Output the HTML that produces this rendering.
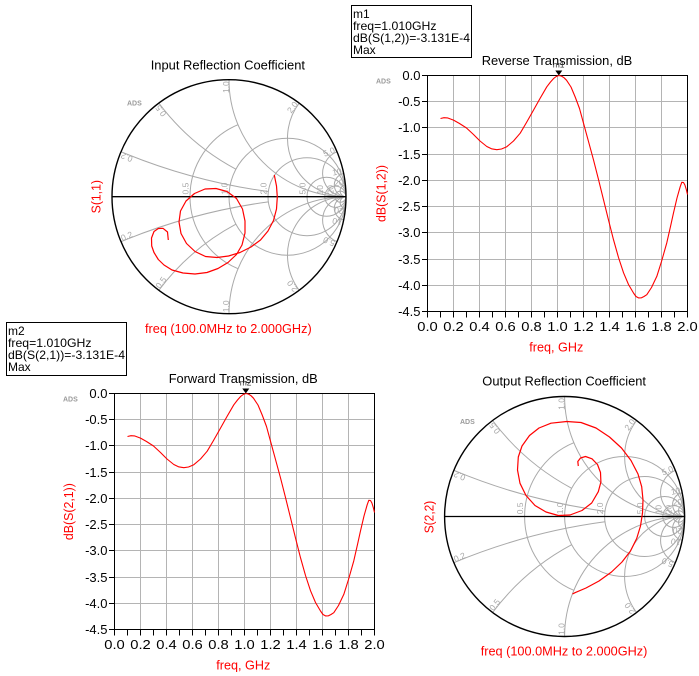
<!DOCTYPE html>
<html>
<head>
<meta charset="utf-8">
<style>
  html,body{margin:0;padding:0;background:#fff;}
  svg{display:block;}
  .sm *{vector-effect:non-scaling-stroke;}
  text{font-family:"Liberation Sans",Arial,sans-serif;}
  .gl{font-size:8.5px;fill:#a8a8a8;}
  .tk{font-size:13px;fill:#000;}
  .ads{font-size:7px;font-weight:bold;fill:#9a9a9a;}
  .red{fill:#ff0000;font-size:13px;}
  .mk{font-size:12px;fill:#000;}
</style>
</head>
<body>
<svg width="699" height="676" viewBox="0 0 699 676" xmlns="http://www.w3.org/2000/svg">
<rect width="699" height="676" fill="#fff"/>

<!-- ============ Smith chart A (S11) ============ -->
<g class="sm" transform="translate(229 196.7) scale(117)" fill="none" stroke="#a9a9a9" stroke-width="1">
  <circle cx="0.5" cy="0" r="0.5"/>
  <circle cx="0.6667" cy="0" r="0.3333"/>
  <circle cx="0.8333" cy="0" r="0.1667"/>
  <circle cx="0.9091" cy="0" r="0.0909"/>
  <circle cx="0.9524" cy="0" r="0.0476"/>
  <path d="M0.0769 -0.6154 A0.6667 0.6667 0 0 0 0.0769 0.6154"/>
  <path d="M-0.9231 -0.3846 A5 5 0 0 0 0.3363 -0.0442 M-0.9231 0.3846 A5 5 0 0 1 0.3363 0.0442"/>
  <path d="M-0.6 -0.8 A2 2 0 0 0 0.0588 -0.2353 M-0.6 0.8 A2 2 0 0 1 0.0588 0.2353"/>
  <path d="M0 -1 A1 1 0 0 0 1 0 M0 1 A1 1 0 0 1 1 0"/>
  <path d="M0.6 -0.8 A0.5 0.5 0 0 0 1 0 M0.6 0.8 A0.5 0.5 0 0 1 1 0"/>
  <path d="M0.9231 -0.3846 A0.2 0.2 0 0 0 1 0 M0.9231 0.3846 A0.2 0.2 0 0 1 1 0"/>
  <path d="M0.9802 -0.198 A0.1 0.1 0 0 0 1 0 M0.9802 0.198 A0.1 0.1 0 0 1 1 0"/>
  <path d="M0.995 -0.0998 A0.05 0.05 0 0 0 1 0 M0.995 0.0998 A0.05 0.05 0 0 1 1 0"/>
  <circle cx="0" cy="0" r="1" stroke="#000" stroke-width="1.4"/>
  <line x1="-1" y1="0" x2="1" y2="0" stroke="#000" stroke-width="1.3"/>
</g>
<!-- Smith A labels -->
<g class="gl">
  <text text-anchor="end" transform="translate(122.4 152.3) rotate(-157.4)">0.2</text>
  <text text-anchor="end" transform="translate(159.7 104.3) rotate(-126.9)">0.5</text>
  <text text-anchor="end" transform="translate(229 81.2) rotate(-90)">1.0</text>
  <text text-anchor="end" transform="translate(298.3 104.3) rotate(-53.1)">2.0</text>
  <text text-anchor="end" transform="translate(335.6 152.3) rotate(-22.6)">5.0</text>
  <text text-anchor="end" transform="translate(342.2 173.8) rotate(-11.4)">10</text>
  <text text-anchor="end" transform="translate(343.9 185.2) rotate(-5.7)">20</text>
  <text transform="translate(122.4 241.1) rotate(-22.6)">0.2</text>
  <text transform="translate(159.7 289.1) rotate(-53.1)">0.5</text>
  <text transform="translate(229 312.2) rotate(-90)">1.0</text>
  <text transform="translate(298.3 289.1) rotate(-126.9)">2.0</text>
  <text transform="translate(335.6 241.1) rotate(-157.4)">5.0</text>
  <text transform="translate(342.2 219.6) rotate(-168.6)">10</text>
  <text transform="translate(343.9 208.2) rotate(-174.3)">20</text>
  <text transform="translate(188.5 194.5) rotate(-90)">0.5</text>
  <text transform="translate(227.5 194.5) rotate(-90)">1.0</text>
  <text transform="translate(266.5 194.5) rotate(-90)">2.0</text>
  <text transform="translate(305.5 194.5) rotate(-90)">5.0</text>
  <text transform="translate(323 194.5) rotate(-90)">10</text>
  <text transform="translate(333.5 194.5) rotate(-90)">20</text>
</g>
<polyline fill="none" stroke="#ff0000" stroke-width="1.2" stroke-linejoin="round" points="168.3,240 167.5,232 163,228.3 158.3,228.5 154,231.5 151.5,238 151.7,246 154,252.5 158.3,259.5 164,265 172,270 183,273 195,274 207,272.5 218,268.5 228,262.5 236.5,254.5 242,245 245,233 245,221 242.5,209 236.5,198.5 227,191.5 216,188.5 205,189 194.5,193.5 186,201 180.5,211 179,222 181,233.5 186.5,243.5 195,251.5 205.5,256.5 217,257.5 228.5,256 240,252.5 251,247 260.5,240 268,231 273.5,220.5 276.5,209 277.3,197 276.5,186 274.3,175"/>
<text class="ads" x="127" y="105.5">ADS</text>
<text x="150.7" y="69.3" font-size="13" fill="#000" textLength="154.3" lengthAdjust="spacingAndGlyphs">Input Reflection Coefficient</text>
<text class="red" text-anchor="middle" transform="translate(100.3 196.7) rotate(-90)" textLength="33.3" lengthAdjust="spacingAndGlyphs">S(1,1)</text>
<text class="red" x="145" y="333" textLength="166.7" lengthAdjust="spacingAndGlyphs">freq (100.0MHz to 2.000GHz)</text>

<!-- ============ Smith chart B (S22) ============ -->
<g class="sm" transform="translate(564.6 516.5) scale(120)" fill="none" stroke="#a9a9a9" stroke-width="1">
  <circle cx="0.5" cy="0" r="0.5"/>
  <circle cx="0.6667" cy="0" r="0.3333"/>
  <circle cx="0.8333" cy="0" r="0.1667"/>
  <circle cx="0.9091" cy="0" r="0.0909"/>
  <circle cx="0.9524" cy="0" r="0.0476"/>
  <path d="M0.0769 -0.6154 A0.6667 0.6667 0 0 0 0.0769 0.6154"/>
  <path d="M-0.9231 -0.3846 A5 5 0 0 0 0.3363 -0.0442 M-0.9231 0.3846 A5 5 0 0 1 0.3363 0.0442"/>
  <path d="M-0.6 -0.8 A2 2 0 0 0 0.0588 -0.2353 M-0.6 0.8 A2 2 0 0 1 0.0588 0.2353"/>
  <path d="M0 -1 A1 1 0 0 0 1 0 M0 1 A1 1 0 0 1 1 0"/>
  <path d="M0.6 -0.8 A0.5 0.5 0 0 0 1 0 M0.6 0.8 A0.5 0.5 0 0 1 1 0"/>
  <path d="M0.9231 -0.3846 A0.2 0.2 0 0 0 1 0 M0.9231 0.3846 A0.2 0.2 0 0 1 1 0"/>
  <path d="M0.9802 -0.198 A0.1 0.1 0 0 0 1 0 M0.9802 0.198 A0.1 0.1 0 0 1 1 0"/>
  <path d="M0.995 -0.0998 A0.05 0.05 0 0 0 1 0 M0.995 0.0998 A0.05 0.05 0 0 1 1 0"/>
  <circle cx="0" cy="0" r="1" stroke="#000" stroke-width="1.4"/>
  <line x1="-1" y1="0" x2="1" y2="0" stroke="#000" stroke-width="1.3"/>
</g>
<g class="gl">
  <text text-anchor="end" transform="translate(455.2 470.9) rotate(-157.4)">0.2</text>
  <text text-anchor="end" transform="translate(493.5 421.7) rotate(-126.9)">0.5</text>
  <text text-anchor="end" transform="translate(564.6 398) rotate(-90)">1.0</text>
  <text text-anchor="end" transform="translate(635.7 421.7) rotate(-53.1)">2.0</text>
  <text text-anchor="end" transform="translate(674 470.9) rotate(-22.6)">5.0</text>
  <text text-anchor="end" transform="translate(680.8 493) rotate(-11.4)">10</text>
  <text text-anchor="end" transform="translate(682.5 504.7) rotate(-5.7)">20</text>
  <text transform="translate(455.2 562.1) rotate(-22.6)">0.2</text>
  <text transform="translate(493.5 611.3) rotate(-53.1)">0.5</text>
  <text transform="translate(564.6 635) rotate(-90)">1.0</text>
  <text transform="translate(635.7 611.3) rotate(-126.9)">2.0</text>
  <text transform="translate(674 562.1) rotate(-157.4)">5.0</text>
  <text transform="translate(680.8 540) rotate(-168.6)">10</text>
  <text transform="translate(682.5 528.3) rotate(-174.3)">20</text>
  <text transform="translate(523.1 514.3) rotate(-90)">0.5</text>
  <text transform="translate(563.1 514.3) rotate(-90)">1.0</text>
  <text transform="translate(603.1 514.3) rotate(-90)">2.0</text>
  <text transform="translate(643.1 514.3) rotate(-90)">5.0</text>
  <text transform="translate(661.3 514.3) rotate(-90)">10</text>
  <text transform="translate(671.4 514.3) rotate(-90)">20</text>
</g>
<polyline fill="none" stroke="#ff0000" stroke-width="1.2" stroke-linejoin="round" points="578.3,466 577.8,461.5 580.5,458 585.5,456.5 592,458.8 597.5,464.5 600.5,472.5 600.9,482 598.3,491.7 591.7,503 582,510.5 570,515 558.3,515.5 546,512 535,505.5 526,495.5 520,483.3 517.5,470 518.3,457 522,446 529.5,435.5 539,428 551,423.2 566.7,421.5 581,422.5 596,428 609.5,437 621.5,448 631,460.5 638,474 641.7,486.7 643,500 642.5,513 640.5,526 636.7,538.5 630.5,551 622,562 611.5,572 599,581 586,588 575,592.7 572.5,594"/>
<text class="ads" x="460" y="424">ADS</text>
<text x="482.3" y="385.5" font-size="13" fill="#000" textLength="163.7" lengthAdjust="spacingAndGlyphs">Output Reflection Coefficient</text>
<text class="red" text-anchor="middle" transform="translate(433.3 517) rotate(-90)" textLength="32.6" lengthAdjust="spacingAndGlyphs">S(2,2)</text>
<text class="red" x="480.7" y="655.7" textLength="166.7" lengthAdjust="spacingAndGlyphs">freq (100.0MHz to 2.000GHz)</text>

<!-- ============ Rectangular plot (Reverse) ============ -->
<g id="plot">
  <g stroke="#b4b4b4" stroke-width="1" shape-rendering="crispEdges" fill="none">
    <path d="M453.5 75.5V311.5M479.5 75.5V311.5M505.5 75.5V311.5M531.5 75.5V311.5M557.5 75.5V311.5M583.5 75.5V311.5M609.5 75.5V311.5M635.5 75.5V311.5M661.5 75.5V311.5"/>
    <path d="M427.5 101.5H687.5M427.5 127.5H687.5M427.5 154.5H687.5M427.5 180.5H687.5M427.5 206.5H687.5M427.5 232.5H687.5M427.5 259.5H687.5M427.5 285.5H687.5"/>
  </g>
  <rect x="427.5" y="75.5" width="260" height="236" fill="none" stroke="#000" stroke-width="1" shape-rendering="crispEdges"/>
  <path stroke="#000" stroke-width="1" shape-rendering="crispEdges" fill="none" d="M422 75.5H427.5M422 101.5H427.5M422 127.5H427.5M422 154.5H427.5M422 180.5H427.5M422 206.5H427.5M422 232.5H427.5M422 259.5H427.5M422 285.5H427.5M422 311.5H427.5
  M427.5 311.5V317.5M440.5 311.5V317.5M453.5 311.5V317.5M466.5 311.5V317.5M479.5 311.5V317.5M492.5 311.5V317.5M505.5 311.5V317.5M518.5 311.5V317.5M531.5 311.5V317.5M544.5 311.5V317.5M557.5 311.5V317.5M570.5 311.5V317.5M583.5 311.5V317.5M596.5 311.5V317.5M609.5 311.5V317.5M622.5 311.5V317.5M635.5 311.5V317.5M648.5 311.5V317.5M661.5 311.5V317.5M674.5 311.5V317.5M687.5 311.5V317.5"/>
  <polyline transform="translate(427.5 75.5)" fill="none" stroke="#ff0000" stroke-width="1.1" stroke-linejoin="round" points="13,43 16.5,42.2 20,42.4 26,44.6 32,48 39,52.5 46,59 52.5,65.5 59.3,71 64,73.3 69.3,74.2 74,73.5 79.3,71.2 86,65.5 92.7,57.7 99,47 106,34.6 112.5,23 119.3,11.3 123,6.5 126,3.1 128.7,1 131.3,0 134,0.6 136.5,2.2 139,4.7 143.5,11.5 147.7,21.5 152,33 156,47.7 161,66 166,84.4 171,104 176,124.3 181,144.5 186,164.2 191,182 196,197.2 201,209 206,217.5 208.5,221 211,222.4 214,222.3 216.5,221 219.3,219.2 224,212 229.3,200.9 234,186 239.3,167.3 243,151 246,137.4 249.5,122.5 252.7,111.2 254.3,106.8 256,107 257.4,109.5 258.8,114 260,119"/>
  <path d="M555.3 70.5H562.3L558.8 75.5Z" fill="#000"/>
  <g class="tk" text-anchor="middle">
    <text x="427.5" y="331" textLength="20.5" lengthAdjust="spacingAndGlyphs">0.0</text><text x="453.5" y="331" textLength="20.5" lengthAdjust="spacingAndGlyphs">0.2</text><text x="479.5" y="331" textLength="20.5" lengthAdjust="spacingAndGlyphs">0.4</text><text x="505.5" y="331" textLength="20.5" lengthAdjust="spacingAndGlyphs">0.6</text><text x="531.5" y="331" textLength="20.5" lengthAdjust="spacingAndGlyphs">0.8</text><text x="557.5" y="331" textLength="20.5" lengthAdjust="spacingAndGlyphs">1.0</text><text x="583.5" y="331" textLength="20.5" lengthAdjust="spacingAndGlyphs">1.2</text><text x="609.5" y="331" textLength="20.5" lengthAdjust="spacingAndGlyphs">1.4</text><text x="635.5" y="331" textLength="20.5" lengthAdjust="spacingAndGlyphs">1.6</text><text x="661.5" y="331" textLength="20.5" lengthAdjust="spacingAndGlyphs">1.8</text><text x="687.5" y="331" textLength="20.5" lengthAdjust="spacingAndGlyphs">2.0</text>
  </g>
  <g class="tk" text-anchor="end">
    <text x="420.5" y="80">0.0</text><text x="420.5" y="106">-0.5</text><text x="420.5" y="132">-1.0</text><text x="420.5" y="159">-1.5</text><text x="420.5" y="185">-2.0</text><text x="420.5" y="211">-2.5</text><text x="420.5" y="237">-3.0</text><text x="420.5" y="264">-3.5</text><text x="420.5" y="290">-4.0</text><text x="420.5" y="316">-4.5</text>
  </g>
  <text class="red" x="529.3" y="351.5" textLength="54" lengthAdjust="spacingAndGlyphs">freq, GHz</text>
  <text class="ads" x="376" y="83.5">ADS</text>
</g>
<use href="#plot" transform="translate(-313 318)"/>

<text x="481.7" y="65" font-size="13" fill="#000" textLength="150.6" lengthAdjust="spacingAndGlyphs">Reverse Transmission, dB</text>
<text class="red" text-anchor="middle" transform="translate(385.3 193.5) rotate(-90)" textLength="57" lengthAdjust="spacingAndGlyphs">dB(S(1,2))</text>
<text x="558.6" y="67.5" font-size="8.5" fill="#333" text-anchor="middle">m1</text>

<text x="168.7" y="383" font-size="13" fill="#000" textLength="149" lengthAdjust="spacingAndGlyphs">Forward Transmission, dB</text>
<text class="red" text-anchor="middle" transform="translate(73 511.6) rotate(-90)" textLength="57" lengthAdjust="spacingAndGlyphs">dB(S(2,1))</text>
<text x="245.6" y="385.5" font-size="8.5" fill="#333" text-anchor="middle">m2</text>

<!-- Marker boxes -->
<rect x="351.5" y="5.5" width="120" height="52" fill="#fff" stroke="#000" stroke-width="1" shape-rendering="crispEdges"/>
<g class="mk">
  <text x="353" y="18">m1</text>
  <text x="353" y="30" textLength="83.5" lengthAdjust="spacingAndGlyphs">freq=1.010GHz</text>
  <text x="353" y="42.2" textLength="117" lengthAdjust="spacingAndGlyphs">dB(S(1,2))=-3.131E-4</text>
  <text x="353" y="54">Max</text>
</g>
<rect x="6.5" y="322.5" width="120" height="53" fill="#fff" stroke="#000" stroke-width="1" shape-rendering="crispEdges"/>
<g class="mk">
  <text x="8" y="334.8">m2</text>
  <text x="8" y="347" textLength="83.5" lengthAdjust="spacingAndGlyphs">freq=1.010GHz</text>
  <text x="8" y="359.2" textLength="117" lengthAdjust="spacingAndGlyphs">dB(S(2,1))=-3.131E-4</text>
  <text x="8" y="371">Max</text>
</g>
</svg>
</body>
</html>
